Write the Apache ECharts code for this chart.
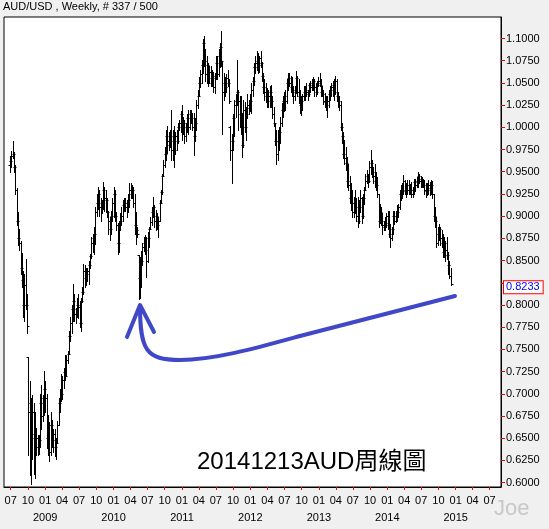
<!DOCTYPE html>
<html><head><meta charset="utf-8">
<script src="https://cdn.jsdelivr.net/npm/echarts@6/dist/echarts.min.js"></script>
<style>html,body{margin:0;padding:0;background:#f0f0f0;}#c{width:549px;height:529px;}</style>
</head><body><div id="c"></div>
<script>
const chartTitle = 'AUD/USD , Weekly, # 337 / 500';
const noteText = '20141213AUD周線圖';
const watermark = 'Joe';
const firstWeek = '2008-06-30';
const lastPrice = 0.8233;

const open = [
.958,.962,.968,.970,.955,.930,.895,.875,.870,.842,.828,.800,.823,
.800,.742,.680,.690,.655,.680,.650,.640,.650,.640,.648,.690,.675,
.695,.705,.695,.650,.665,.635,.665,.648,.655,.640,.645,.665,.690,
.695,.700,.715,.725,.720,.738,.745,.765,.780,.795,.805,.790,.795,
.800,.798,.780,.805,.815,.838,.830,.835,.838,.845,.855,.870,.875,
.880,.905,.915,.925,.910,.915,.912,.930,.920,.918,.905,.895,.885,
.900,.915,.925,.900,.890,.870,.890,.895,.900,.912,.915,.910,.915,
.918,.930,.925,.930,.915,.890,.884,.856,.830,.845,.850,.865,.870,
.862,.850,.875,.885,.893,.905,.910,.895,.900,.890,.895,.915,.927,
.945,.958,.970,.990,.985,.980,.990,.975,.985,.975,.990,.985,1.000,
1.005,1.015,.995,1.005,.990,1.000,1.010,1.000,1.015,1.010,1.000,.990,1.005,
1.025,1.035,1.050,1.060,1.070,1.095,1.075,1.060,1.070,1.055,1.062,1.050,1.058,
1.045,1.055,1.072,1.060,1.080,1.090,1.075,1.040,1.050,1.045,1.055,1.050,1.000,
.975,.985,1.010,1.025,1.030,1.040,1.030,1.015,1.005,.980,1.020,1.000,1.015,
1.025,1.022,1.030,1.042,1.052,1.068,1.072,1.075,1.070,1.078,1.072,1.058,1.045,
1.040,1.035,1.030,1.035,1.040,1.030,1.015,1.005,.985,.970,.985,.995,1.005,
1.020,1.030,1.035,1.030,1.050,1.055,1.050,1.045,1.040,1.035,1.042,1.055,1.040,
1.035,1.025,1.030,1.035,1.040,1.042,1.040,1.038,1.048,1.045,1.050,1.052,1.045,
1.040,1.050,1.052,1.048,1.040,1.038,1.030,1.028,1.025,1.030,1.038,1.042,1.045,
1.048,1.040,1.052,1.035,1.030,1.025,1.000,.990,.970,.965,.960,.940,.935,
.920,.915,.905,.915,.910,.900,.895,.910,.920,.900,.920,.930,.940,
.945,.940,.955,.960,.950,.945,.940,.935,.925,.895,.905,.895,.890,
.888,.892,.900,.890,.880,.875,.885,.900,.895,.900,.905,.910,.925,
.930,.928,.940,.930,.935,.930,.935,.930,.925,.930,.938,.935,.940,
.945,.940,.942,.938,.935,.930,.928,.932,.935,.930,.935,.925,.900,
.895,.870,.880,.885,.875,.870,.860,.870,.862,.856,.845,.833
];
const high = [
.968,.973,.985,.972,.958,.932,.905,.885,.872,.858,.838,.835,.852,
.812,.742,.714,.695,.699,.690,.680,.661,.654,.654,.700,.710,.699,
.726,.714,.700,.676,.668,.680,.670,.660,.660,.650,.669,.695,.705,
.722,.720,.729,.744,.744,.748,.771,.786,.800,.824,.812,.797,.808,
.812,.805,.808,.820,.846,.845,.842,.842,.850,.857,.876,.880,.888,
.910,.925,.933,.930,.921,.918,.939,.933,.930,.920,.906,.899,.906,
.920,.933,.929,.905,.892,.895,.903,.910,.918,.921,.921,.918,.925,
.937,.937,.935,.933,.925,.905,.888,.856,.854,.861,.870,.876,.879,
.876,.882,.888,.899,.910,.922,.912,.907,.903,.899,.918,.929,.948,
.963,.978,.997,1.001,.995,.997,1.020,.997,1.001,.995,.997,1.005,1.008,
1.018,1.025,1.012,1.008,1.005,1.015,1.020,1.020,1.020,1.016,1.016,1.010,1.031,
1.042,1.057,1.065,1.076,1.099,1.103,1.088,1.080,1.072,1.069,1.069,1.065,1.062,
1.061,1.080,1.080,1.088,1.095,1.108,1.075,1.061,1.057,1.060,1.065,1.054,1.001,
.993,1.015,1.031,1.038,1.076,1.042,1.035,1.035,1.016,1.031,1.028,1.023,1.038,
1.031,1.038,1.050,1.057,1.072,1.080,1.086,1.084,1.080,1.086,1.074,1.061,1.054,
1.050,1.044,1.042,1.046,1.048,1.035,1.023,1.005,.997,.997,1.000,1.012,1.027,
1.035,1.040,1.042,1.054,1.061,1.061,1.058,1.057,1.046,1.046,1.063,1.058,1.054,
1.042,1.035,1.038,1.046,1.046,1.050,1.042,1.050,1.052,1.054,1.057,1.054,1.050,
1.052,1.057,1.061,1.054,1.046,1.042,1.039,1.035,1.035,1.042,1.046,1.050,1.052,
1.054,1.058,1.054,1.040,1.035,1.030,1.005,.995,.986,.978,.967,.959,.945,
.937,.929,.922,.929,.920,.922,.918,.929,.922,.925,.933,.948,.952,
.948,.962,.974,.963,.955,.959,.950,.944,.925,.914,.910,.903,.895,
.899,.903,.906,.906,.891,.888,.906,.906,.906,.912,.914,.929,.935,
.937,.946,.941,.937,.941,.941,.936,.939,.933,.942,.942,.944,.950,
.948,.945,.944,.942,.941,.937,.937,.941,.939,.941,.940,.925,.910,
.899,.888,.891,.888,.884,.880,.876,.872,.877,.860,.850,.842
];
const low = [
.950,.955,.966,.950,.925,.890,.868,.862,.835,.820,.786,.782,.795,
.768,.631,.609,.599,.627,.610,.605,.631,.631,.632,.640,.660,.669,
.676,.680,.639,.631,.624,.631,.640,.635,.630,.627,.645,.665,.680,
.692,.694,.707,.715,.720,.735,.745,.760,.769,.782,.782,.780,.786,
.785,.775,.771,.803,.812,.820,.822,.827,.824,.842,.853,.860,.857,
.869,.900,.908,.900,.895,.903,.908,.906,.905,.899,.880,.873,.880,
.895,.899,.895,.884,.857,.860,.884,.890,.895,.906,.906,.899,.905,
.910,.921,.920,.910,.880,.869,.876,.807,.808,.820,.845,.861,.857,
.831,.848,.865,.885,.890,.899,.888,.884,.885,.877,.895,.915,.925,
.945,.955,.963,.971,.975,.978,.963,.963,.955,.970,.974,.982,.997,
.995,.986,.993,.982,.985,.995,.993,.998,1.005,.997,.969,.985,.997,
1.022,1.035,1.045,1.050,1.061,1.069,1.052,1.050,1.046,1.050,1.046,1.046,1.040,
1.039,1.054,1.054,1.058,1.068,1.069,.993,1.031,1.035,1.040,1.046,1.027,.963,
.937,.975,.990,1.012,1.025,.997,1.000,.993,.967,.978,.995,.986,1.010,
1.015,1.018,1.016,1.035,1.048,1.061,1.065,1.061,1.062,1.068,1.052,1.039,1.031,
1.028,1.023,1.023,1.023,1.023,1.010,1.001,.980,.959,.963,.975,.982,1.001,
1.012,1.018,1.020,1.027,1.042,1.046,1.040,1.035,1.027,1.031,1.039,1.035,1.027,
1.016,1.014,1.020,1.031,1.031,1.035,1.031,1.035,1.040,1.042,1.042,1.035,1.035,
1.038,1.046,1.046,1.035,1.035,1.026,1.023,1.020,1.012,1.023,1.031,1.035,1.035,
1.031,1.038,1.030,1.023,1.020,.997,.982,.965,.959,.952,.933,.929,.915,
.907,.899,.899,.903,.895,.888,.892,.905,.892,.898,.914,.929,.937,
.933,.938,.948,.944,.937,.933,.930,.922,.888,.892,.890,.880,.884,
.884,.888,.885,.876,.865,.873,.880,.891,.893,.895,.899,.908,.918,
.920,.925,.925,.922,.925,.925,.925,.922,.922,.925,.928,.933,.933,
.937,.933,.933,.933,.925,.922,.924,.925,.924,.925,.920,.895,.888,
.865,.868,.873,.868,.865,.854,.854,.850,.852,.835,.830,.822
];
const close = [
.962,.968,.970,.955,.930,.895,.875,.870,.842,.828,.800,.823,.800,
.776,.680,.690,.655,.680,.650,.640,.650,.640,.648,.690,.675,.695,
.705,.695,.650,.665,.635,.665,.648,.655,.640,.645,.665,.690,.695,
.700,.715,.725,.720,.738,.745,.765,.780,.795,.805,.790,.795,.800,
.798,.780,.805,.815,.838,.830,.835,.838,.845,.855,.870,.875,.880,
.905,.915,.925,.910,.915,.912,.930,.920,.918,.905,.895,.885,.900,
.915,.925,.900,.890,.870,.890,.895,.900,.912,.915,.910,.915,.918,
.930,.925,.930,.915,.890,.884,.880,.830,.845,.850,.865,.870,.862,
.850,.875,.885,.893,.905,.910,.895,.900,.890,.895,.915,.927,.945,
.958,.970,.990,.985,.980,.990,.975,.985,.975,.990,.985,1.000,1.005,
1.015,.995,1.005,.990,1.000,1.010,1.000,1.015,1.010,1.000,.990,1.005,1.025,
1.035,1.050,1.060,1.070,1.095,1.075,1.060,1.070,1.055,1.062,1.050,1.058,1.045,
1.055,1.072,1.060,1.080,1.090,1.075,1.040,1.050,1.045,1.055,1.050,1.030,.975,
.985,1.010,1.025,1.030,1.040,1.030,1.015,1.005,.980,1.020,1.000,1.015,1.025,
1.022,1.030,1.042,1.052,1.068,1.072,1.075,1.070,1.078,1.072,1.058,1.045,1.040,
1.035,1.030,1.035,1.040,1.030,1.015,1.005,.985,.970,.985,.995,1.005,1.020,
1.030,1.035,1.030,1.050,1.055,1.050,1.045,1.040,1.035,1.042,1.055,1.040,1.035,
1.025,1.030,1.035,1.040,1.042,1.040,1.038,1.048,1.045,1.050,1.052,1.045,1.040,
1.050,1.052,1.048,1.040,1.038,1.030,1.028,1.025,1.030,1.038,1.042,1.045,1.048,
1.040,1.052,1.035,1.030,1.025,1.000,.990,.970,.965,.960,.940,.935,.920,
.915,.905,.915,.910,.900,.895,.910,.920,.900,.920,.930,.940,.945,
.940,.955,.960,.950,.945,.940,.935,.925,.895,.905,.895,.890,.888,
.892,.900,.890,.880,.875,.885,.900,.895,.900,.905,.910,.925,.930,
.928,.940,.930,.935,.930,.935,.930,.925,.930,.938,.935,.940,.945,
.940,.942,.938,.935,.930,.928,.932,.935,.930,.935,.925,.900,.895,
.870,.880,.885,.875,.870,.860,.870,.862,.856,.845,.833,.8233
];

const yTicks = [0.6000,0.6250,0.6500,0.6750,0.7000,0.7250,0.7500,0.7750,0.8000,0.8250,
  0.8500,0.8750,0.9000,0.9250,0.9500,0.9750,1.0000,1.0250,1.0500,1.0750,1.1000];
const yLabels = [0.6000,0.6250,0.6500,0.6750,0.7000,0.7250,0.7500,0.7750,0.8000,
  0.8500,0.8750,0.9000,0.9250,0.9500,0.9750,1.0000,1.0250,1.0500,1.0750,1.1000];
const xTickDates = ['2008-07-01','2008-10-01','2009-01-01','2009-04-01','2009-07-01','2009-10-01',
  '2010-01-01','2010-04-01','2010-07-01','2010-10-01','2011-01-01','2011-04-01','2011-07-01','2011-10-01',
  '2012-01-01','2012-04-01','2012-07-01','2012-10-01','2013-01-01','2013-04-01','2013-07-01','2013-10-01',
  '2014-01-01','2014-04-01','2014-07-01','2014-10-01','2015-01-01','2015-04-01','2015-07-01'];
const xMinDate = '2008-05-26T06:00:00Z';
const xMaxDate = '2015-08-30T19:00:00Z';
const yMin = 0.5951, yMax = 1.1242;

const DAY = 86400000;
const t0 = Date.parse(firstWeek + 'T00:00:00Z');
const ohlc = close.map((c, i) => [t0 + i * 7 * DAY, open[i], high[i], low[i], c]);
const xTicks = xTickDates.map(d => Date.parse(d + 'T00:00:00Z'));

const FONT = 'Arial, "Liberation Sans", sans-serif';
const chart = echarts.init(document.getElementById('c'), null, {renderer: 'canvas'});
const blue = '#4048c8';
const pen = {stroke: blue, lineWidth: 4, fill: null, lineJoin: 'round', lineCap: 'round'};

chart.setOption({
  backgroundColor: '#f0f0f0',
  animation: false,
  textStyle: {fontFamily: FONT},
  title: {text: chartTitle, left: 3, top: 1, padding: 0,
    textStyle: {fontSize: 11, fontWeight: 'normal', color: '#000', fontFamily: FONT}},
  grid: {left: 4, top: 17, right: 48, bottom: 42, show: true, backgroundColor: '#fff',
    borderColor: '#000', borderWidth: 1},
  xAxis: {
    type: 'value', min: Date.parse(xMinDate), max: Date.parse(xMaxDate),
    splitLine: {show: false},
    axisLine: {lineStyle: {color: '#000'}},
    axisTick: {customValues: xTicks, length: 3, lineStyle: {color: '#ff0000'}},
    axisLabel: {customValues: xTicks, margin: 5, fontSize: 11, lineHeight: 17, color: '#000', fontFamily: FONT,
      formatter: v => {
        const d = new Date(v); const m = d.getUTCMonth() + 1;
        const s = (m < 10 ? '0' : '') + m;
        return m === 1 ? s + '\n' + d.getUTCFullYear() : s;
      }}
  },
  yAxis: {
    type: 'value', position: 'right', min: yMin, max: yMax,
    splitLine: {show: false},
    axisLine: {show: true, lineStyle: {color: '#000'}},
    axisTick: {show: true, customValues: yTicks, length: 4, lineStyle: {color: '#ff0000'}},
    axisLabel: {customValues: yLabels, margin: 5, fontSize: 11, color: '#000', fontFamily: FONT,
      formatter: v => v.toFixed(4)}
  },
  series: [{
    type: 'custom',
    data: ohlc,
    encode: {x: 0, y: [1, 2, 3, 4]},
    renderItem: (params, api) => {
      const t = api.value(0);
      const o = api.coord([t, api.value(1)]);
      const h = api.coord([t, api.value(2)]);
      const l = api.coord([t, api.value(3)]);
      const c = api.coord([t, api.value(4)]);
      const x = Math.floor(h[0]) + 0.5;
      const st = {stroke: '#000', lineWidth: 1};
      const yo = Math.round(o[1]) + 0.5, yc = Math.round(c[1]) + 0.5;
      return {type: 'group', children: [
        {type: 'line', shape: {x1: x, y1: Math.round(h[1]), x2: x, y2: Math.round(l[1]) + 1}, style: st},
        {type: 'line', shape: {x1: x - 2, y1: yo, x2: x, y2: yo}, style: st},
        {type: 'line', shape: {x1: x, y1: yc, x2: x + 2, y2: yc}, style: st}
      ]};
    }
  }, {
    type: 'line',
    data: [[ohlc[ohlc.length - 1][0], lastPrice]],
    showSymbol: false, lineStyle: {color: 'rgba(0,0,0,0)'}, silent: true, z: 5,
    markLine: {
      symbol: 'none', silent: true, animation: false,
      lineStyle: {color: 'rgba(0,0,0,0)', width: 1, type: 'solid'},
      data: [{yAxis: lastPrice}],
      label: {show: true, position: 'end', distance: 3, formatter: lastPrice.toFixed(4), color: '#0000ff',
        backgroundColor: '#fff', borderColor: '#ff0000', borderWidth: 1, padding: [1, 3, 0, 2],
        fontSize: 11, lineHeight: 11, fontFamily: FONT}
    }
  }],
  graphic: [
    {type: 'text', x: 494, y: 509, silent: true,
      style: {text: watermark, fontSize: 22, fill: '#c8c8c8', verticalAlign: 'middle', fontFamily: FONT}},
    {type: 'text', x: 197, y: 462, silent: true,
      style: {text: noteText, fontSize: 24, fill: '#000', verticalAlign: 'middle',
        fontFamily: 'Arial, "Liberation Sans", "Noto Sans CJK TC", sans-serif'}},
    {type: 'polyline', silent: true, shape: {points: [[127, 337], [140, 305], [154, 332]]}, style: pen},
    {type: 'bezierCurve', silent: true,
      shape: {x1: 140, y1: 306, cpx1: 140, cpy1: 350, cpx2: 146, cpy2: 360, x2: 180, y2: 360}, style: pen},
    {type: 'bezierCurve', silent: true,
      shape: {x1: 180, y1: 360, cpx1: 215, cpy1: 360, cpx2: 260, cpy2: 347, x2: 300, y2: 336}, style: pen},
    {type: 'line', silent: true, shape: {x1: 300, y1: 336, x2: 455, y2: 296}, style: pen}
  ]
});
</script></body></html>
